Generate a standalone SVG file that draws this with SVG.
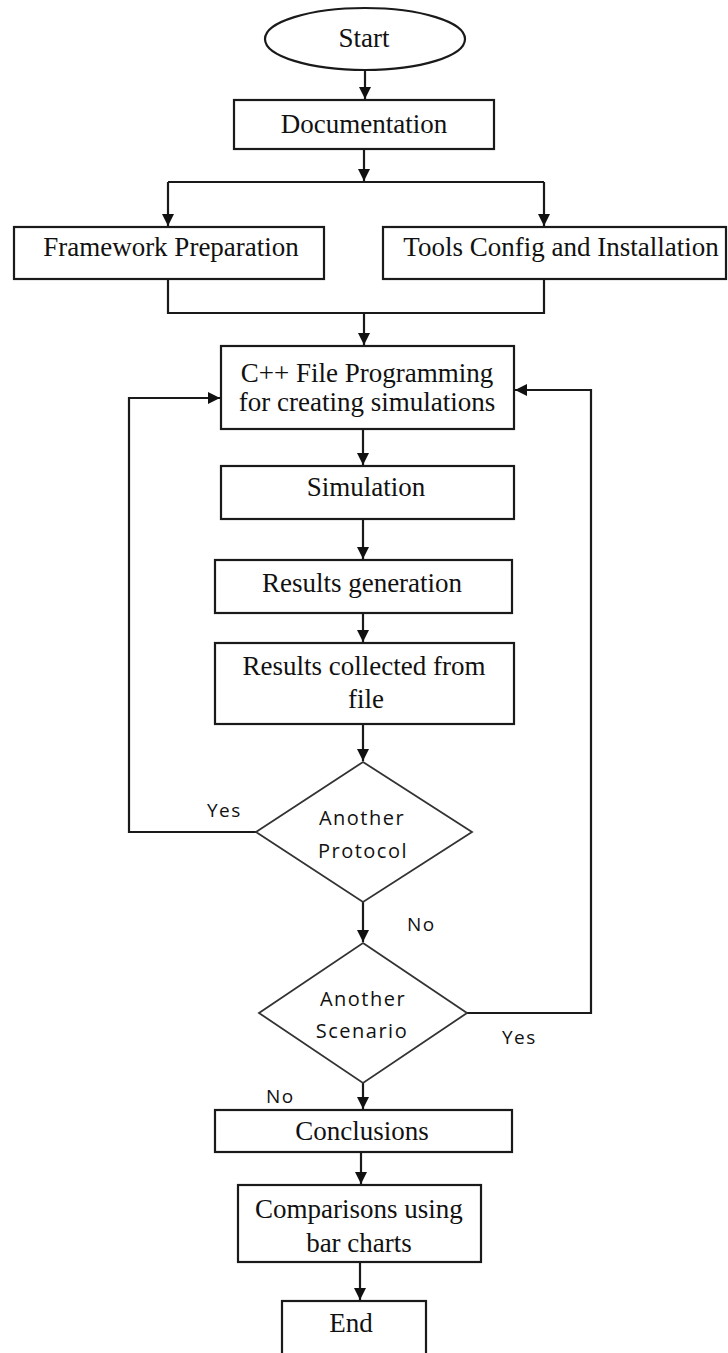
<svg xmlns="http://www.w3.org/2000/svg" width="728" height="1353" viewBox="0 0 728 1353">
<style>
.box{fill:#fff;stroke:#1a1a1a;stroke-width:2.2}
.dia{fill:#fff;stroke:#333;stroke-width:1.8}
.t{font-family:"Liberation Serif","Times New Roman",serif;font-size:27px;fill:#111;text-anchor:middle}
.s{font-family:"Open Sans","Liberation Sans",sans-serif;font-size:20px;fill:#111;text-anchor:middle;letter-spacing:1.5px}
.l{font-family:"Open Sans","Liberation Sans",sans-serif;font-size:19px;fill:#111;letter-spacing:1.5px}
.c{fill:none;stroke:#1a1a1a;stroke-width:2.2}
</style>
<defs>
<marker id="ah" markerUnits="userSpaceOnUse" markerWidth="13" markerHeight="13" refX="12" refY="6" orient="auto">
<path d="M0,0 L12,6 L0,12 z" fill="#111"/>
</marker>
</defs>
<rect width="728" height="1353" fill="#fff"/>
<g id="connectors">
<path class="c" d="M365,70 V99" marker-end="url(#ah)"/>
<path class="c" d="M364,149 V181" marker-end="url(#ah)"/>
<path class="c" d="M168,182 H544"/>
<path class="c" d="M168,182 V226" marker-end="url(#ah)"/>
<path class="c" d="M544,182 V226" marker-end="url(#ah)"/>
<path class="c" d="M168,279 V313 H544 V279"/>
<path class="c" d="M364,313 V345" marker-end="url(#ah)"/>
<path class="c" d="M256,832 H129 V398 H220" marker-end="url(#ah)"/>
<path class="c" d="M467,1013 H591 V390 H515" marker-end="url(#ah)"/>
<path class="c" d="M363,429 V465" marker-end="url(#ah)"/>
<path class="c" d="M363,519 V559" marker-end="url(#ah)"/>
<path class="c" d="M363,613 V642" marker-end="url(#ah)"/>
<path class="c" d="M363,724 V761" marker-end="url(#ah)"/>
<path class="c" d="M363,902 V942" marker-end="url(#ah)"/>
<path class="c" d="M363,1083 V1109" marker-end="url(#ah)"/>
<path class="c" d="M361,1152 V1184" marker-end="url(#ah)"/>
<path class="c" d="M360,1262 V1300" marker-end="url(#ah)"/>
</g>
<g id="start">
<ellipse class="box" cx="365" cy="39" rx="100" ry="31"/>
<text class="t" x="364" y="47">Start</text>
</g>
<g id="documentation">
<rect class="box" x="234" y="100" width="260" height="49"/>
<text class="t" x="364" y="133">Documentation</text>
</g>
<g id="framework">
<rect class="box" x="14" y="227" width="310" height="52"/>
<text class="t" x="171" y="256">Framework Preparation</text>
</g>
<g id="tools">
<rect class="box" x="383" y="227" width="343" height="52"/>
<text class="t" x="561" y="256">Tools Config and Installation</text>
</g>
<g id="cpp">
<rect class="box" x="221" y="346" width="293" height="83"/>
<text class="t" x="367" y="382">C++ File Programming</text>
<text class="t" x="367" y="411">for creating simulations</text>
</g>
<g id="simulation">
<rect class="box" x="221" y="466" width="293" height="53"/>
<text class="t" x="366" y="496">Simulation</text>
</g>
<g id="results-gen">
<rect class="box" x="215" y="560" width="297" height="53"/>
<text class="t" x="362" y="592">Results generation</text>
</g>
<g id="results-col">
<rect class="box" x="215" y="643" width="299" height="81"/>
<text class="t" x="364" y="675">Results collected from</text>
<text class="t" x="366" y="708">file</text>
</g>
<g id="protocol">
<polygon class="dia" points="363,762 472,832 363,902 256,832"/>
<text class="s" x="362" y="825">Another</text>
<text class="s" x="363" y="858">Protocol</text>
</g>
<g id="scenario">
<polygon class="dia" points="363,943 467,1013 363,1083 259,1013"/>
<text class="s" x="363" y="1006">Another</text>
<text class="s" x="362" y="1038">Scenario</text>
</g>
<g id="labels">
<text class="l" x="207" y="817">Yes</text>
<text class="l" x="407" y="931">No</text>
<text class="l" x="502" y="1044">Yes</text>
<text class="l" x="266" y="1103">No</text>
</g>
<g id="conclusions">
<rect class="box" x="215" y="1110" width="297" height="42"/>
<text class="t" x="362" y="1140">Conclusions</text>
</g>
<g id="comparisons">
<rect class="box" x="238" y="1185" width="243" height="77"/>
<text class="t" x="359" y="1218">Comparisons using</text>
<text class="t" x="359" y="1252">bar charts</text>
</g>
<g id="end">
<rect class="box" x="282" y="1301" width="144" height="62"/>
<text class="t" x="351" y="1332">End</text>
</g>
</svg>
